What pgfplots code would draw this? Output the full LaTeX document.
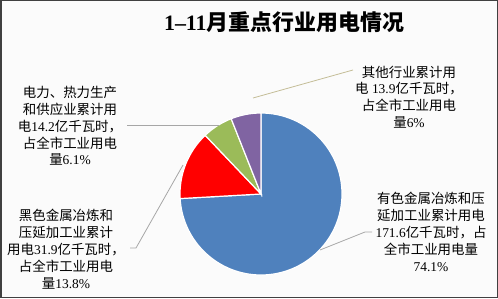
\documentclass[border=0pt]{standalone}
\usepackage{pgfplots}
\usepackage{pgfplotstable}
\pgfplotsset{compat=1.18}
\usepackage{fontspec}
\setmainfont{Liberation Serif}
\newfontfamily\cjk{Noto Sans CJK SC}
\newcommand\zh[1]{{\cjk #1}}
\definecolor{cblue}{HTML}{4F81BD}
\definecolor{cred}{HTML}{FF0000}
\definecolor{cgreen}{HTML}{9BBB59}
\definecolor{cpurple}{HTML}{8064A2}
\definecolor{frame}{HTML}{404040}
\definecolor{bg}{HTML}{FBFBFB}
\definecolor{lead}{HTML}{A6A6A6}
\definecolor{tan}{HTML}{C4BD97}
\pgfplotstableread{
share
74.1
13.8
6.1
6.0
}\piedata
\begin{document}
\begin{tikzpicture}
\pgfplotstablegetelem{0}{share}\of\piedata \let\sA\pgfplotsretval
\pgfplotstablegetelem{1}{share}\of\piedata \let\sB\pgfplotsretval
\pgfplotstablegetelem{2}{share}\of\piedata \let\sC\pgfplotsretval
\pgfplotstablegetelem{3}{share}\of\piedata \let\sD\pgfplotsretval
\pgfmathsetmacro\aO{90}
\pgfmathsetmacro\aA{\aO-3.6*\sA}
\pgfmathsetmacro\aB{\aA-3.6*\sB}
\pgfmathsetmacro\aC{\aB-3.6*\sC}
\pgfmathsetmacro\aD{\aC-3.6*\sD}
\begin{axis}[
  x=1bp, y=1bp,
  xmin=0, xmax=498, ymin=0, ymax=298,
  hide axis, clip=false,
]
\draw[frame, line width=1.5bp, fill=bg] (axis cs:0.75,0.75) rectangle (axis cs:497.25,297.25);
% pie
\def\cx{261}\def\cy{104}\def\R{81}
\filldraw[fill=cblue, draw=white, line width=1.2bp] (axis cs:\cx,\cy) -- ([shift={(\aO:\R bp)}]axis cs:\cx,\cy) arc[start angle=\aO, end angle=\aA, radius=\R bp] -- cycle;
\filldraw[fill=cred, draw=white, line width=1.2bp] (axis cs:\cx,\cy) -- ([shift={(\aA:\R bp)}]axis cs:\cx,\cy) arc[start angle=\aA, end angle=\aB, radius=\R bp] -- cycle;
\filldraw[fill=cgreen, draw=white, line width=1.2bp] (axis cs:\cx,\cy) -- ([shift={(\aB:\R bp)}]axis cs:\cx,\cy) arc[start angle=\aB, end angle=\aC, radius=\R bp] -- cycle;
\filldraw[fill=cpurple, draw=white, line width=1.2bp] (axis cs:\cx,\cy) -- ([shift={(\aC:\R bp)}]axis cs:\cx,\cy) arc[start angle=\aC, end angle=\aD, radius=\R bp] -- cycle;
% leader lines
\draw[lead, line width=0.8bp] (axis cs:127,173) -- (axis cs:219,173);
\draw[tan, line width=0.8bp] (axis cs:253,200) -- (axis cs:353,228);
\draw[lead, line width=0.8bp] (axis cs:130,50) -- (axis cs:136,50) -- (axis cs:183,133);
\draw[lead, line width=0.8bp] (axis cs:320,48) -- (axis cs:365,66) -- (axis cs:372,66);
% title
\node[inner sep=0, font=\fontsize{22}{26}\selectfont\bfseries] at (axis cs:284,276) {1--11\zh{月重点行业用电情况}};
% labels
\node[inner sep=0, align=center, font=\fontsize{13.5}{16.9}\selectfont] at (axis cs:70,172)
 {\zh{电力、热力生产}\\\zh{和供应业累计用}\\\zh{电}14.2\zh{亿千瓦时，}\\\zh{占全市工业用电}\\\zh{量}6.1\%};
\node[inner sep=0, align=center, font=\fontsize{13.5}{16.9}\selectfont] at (axis cs:409,201)
 {\zh{其他行业累计用}\\\zh{电} 13.9\zh{亿千瓦时，}\\\zh{占全市工业用电}\\\zh{量}6\%};
\node[inner sep=0, align=center, font=\fontsize{13.5}{16.9}\selectfont] at (axis cs:66,49)
 {\zh{黑色金属冶炼和}\\\zh{压延加工业累计}\\\zh{用电}31.9\zh{亿千瓦时，}\\\zh{占全市工业用电}\\\zh{量}13.8\%};
\node[inner sep=0, align=center, font=\fontsize{13.5}{16.9}\selectfont] at (axis cs:431,66)
 {\zh{有色金属冶炼和压}\\\zh{延加工业累计用电}\\171.6\zh{亿千瓦时，占}\\\zh{全市工业用电量}\\74.1\%};
\end{axis}
\end{tikzpicture}
\end{document}
